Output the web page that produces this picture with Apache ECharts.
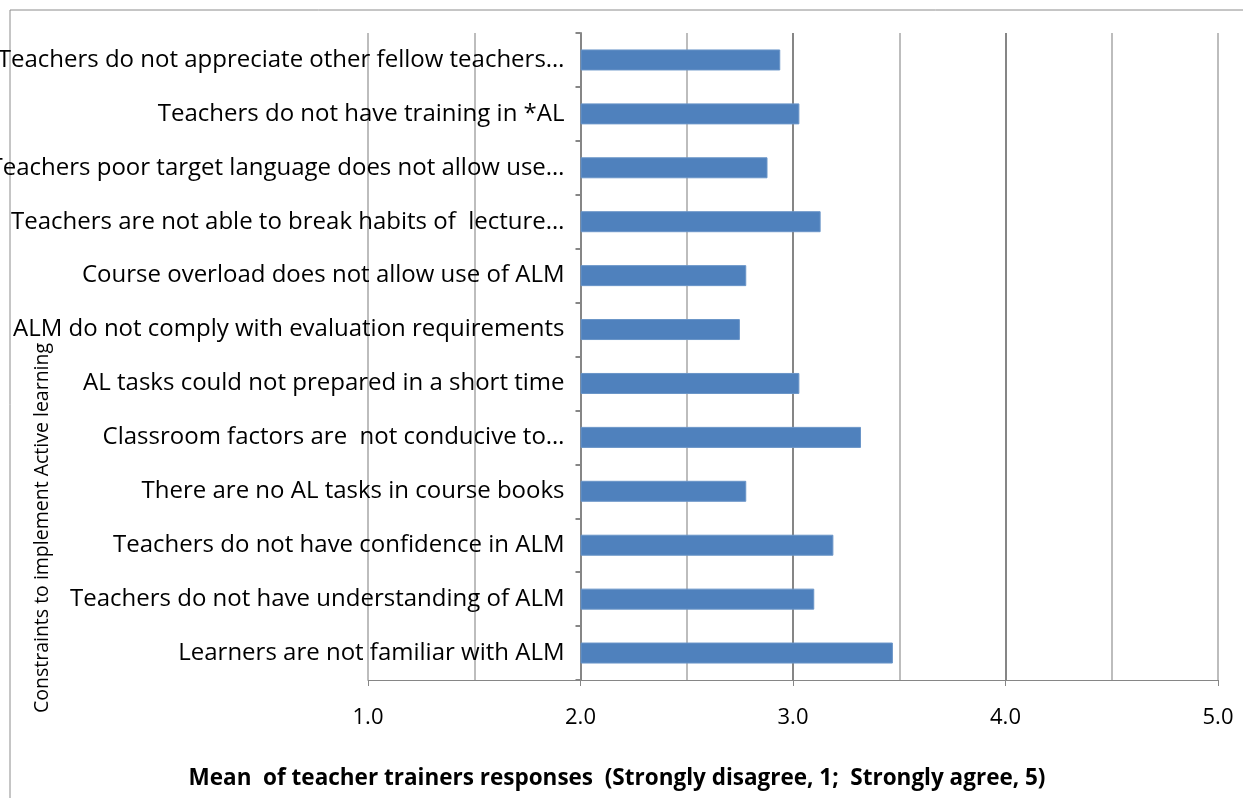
<!DOCTYPE html>
<html>
<head>
<meta charset="utf-8">
<script src="https://cdn.jsdelivr.net/npm/echarts@6/dist/echarts.min.js"></script>
<style>
  html, body { margin: 0; padding: 0; background: #fff; }
  #chart { width: 1243px; height: 798px; }
</style>
</head>
<body>
<div id="chart"></div>
<script>
// constraints, listed top to bottom as in the chart
const constraints = [
  'Teachers do not appreciate other fellow teachers…',
  'Teachers do not have training in *AL',
  'Teachers poor target language does not allow use…',
  'Teachers are not able to break habits of  lecture…',
  'Course overload does not allow use of ALM',
  'ALM do not comply with evaluation requirements',
  'AL tasks could not prepared in a short time',
  'Classroom factors are  not conducive to…',
  'There are no AL tasks in course books',
  'Teachers do not have confidence in ALM',
  'Teachers do not have understanding of ALM',
  'Learners are not familiar with ALM'
];

// mean responses (1 = strongly disagree, 5 = strongly agree)
const means = [2.94, 3.03, 2.88, 3.13, 2.78, 2.75, 3.03, 3.32, 2.78, 3.19, 3.10, 3.47];

// the category axis crosses the value axis here, bars start from it
const baseline = 2;
const xMin = 1;
const xMax = 5;

const xTitle = 'Mean  of teacher trainers responses  (Strongly disagree, 1;  Strongly agree, 5)';
const yTitle = 'Constraints to implement Active learning';

const chart = echarts.init(document.getElementById('chart'));

const option = {
  animation: false,
  textStyle: { fontFamily: 'Open Sans' },
  grid: { left: 368, right: 25, top: 33, bottom: 118, outerBoundsMode: 'none', containLabel: false },
  graphic: [
    {
      type: 'rect',
      shape: { x: 10, y: 10, width: 1300, height: 850 },
      style: { fill: 'none', stroke: '#8c8c8c', lineWidth: 1 },
      silent: true,
      z: -1
    },
    {
      type: 'text',
      x: 42,
      y: 528,
      rotation: Math.PI / 2,
      style: {
        text: yTitle,
        fill: '#000',
        font: '19.5px "Open Sans"',
        align: 'center',
        verticalAlign: 'middle'
      }
    },
    {
      type: 'text',
      x: 617,
      y: 779,
      style: {
        text: xTitle,
        fill: '#000',
        font: 'bold 22.5px "Open Sans"',
        align: 'center',
        verticalAlign: 'middle'
      }
    }
  ],
  xAxis: {
    type: 'value',
    min: xMin,
    max: xMax,
    interval: 1,
    axisLine: { show: true, lineStyle: { color: '#868686', width: 1 } },
    axisTick: { show: true, length: 6, lineStyle: { color: '#868686' } },
    axisLabel: {
      color: '#000',
      fontSize: 22,
      margin: 27,
      formatter: (v) => v.toFixed(1)
    },
    splitLine: {
      show: true,
      lineStyle: { color: ['#bdbdbd', '#868686', '#868686', '#868686', '#bdbdbd'], width: 2 }
    },
    minorTick: { show: false, splitNumber: 2 },
    minorSplitLine: { show: true, lineStyle: { color: '#bdbdbd', width: 2 } }
  },
  yAxis: {
    type: 'category',
    data: constraints,
    inverse: true,
    offset: -212.5,
    axisLine: { show: true, onZero: false, lineStyle: { color: '#868686', width: 2 } },
    axisTick: { show: true, length: 5, lineStyle: { color: '#868686', width: 2 } },
    axisLabel: { color: '#000', fontSize: 24, margin: 16 }
  },
  series: [
    {
      name: 'base',
      type: 'bar',
      stack: 'mean',
      silent: true,
      barWidth: 21,
      itemStyle: { color: 'transparent' },
      data: constraints.map(() => baseline)
    },
    {
      name: 'Mean',
      type: 'bar',
      stack: 'mean',
      barWidth: 21,
      itemStyle: { color: '#4f81bd', borderColor: '#6a95c8', borderWidth: 1 },
      data: means.map((v) => +(v - baseline).toFixed(2))
    }
  ]
};

chart.setOption(option);
</script>
</body>
</html>
